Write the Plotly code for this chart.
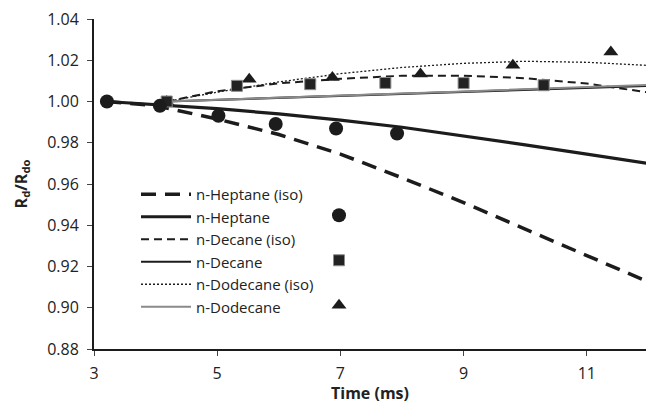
import plotly.graph_objects as go

# ---- data ----
t_hep_model = [3.2, 4, 5, 6, 7, 8, 9, 10, 11, 12]
hep_iso = [1.0, 0.998, 0.9915, 0.984, 0.9745, 0.963, 0.951, 0.938, 0.9253, 0.9125]
hep_model = [1.0, 0.9986, 0.9965, 0.994, 0.991, 0.9875, 0.9834, 0.979, 0.9745, 0.970]

t_model = [4.18, 5, 6, 7, 8, 9, 10, 11, 12]
dec_iso = [1.0, 1.005, 1.0088, 1.011, 1.0125, 1.0125, 1.0113, 1.0087, 1.0044]
dec_model = [1.0, 1.0008, 1.0017, 1.0026, 1.0035, 1.0044, 1.0054, 1.0065, 1.0076]
dod_iso = [1.0, 1.0045, 1.0095, 1.0135, 1.0165, 1.0185, 1.0195, 1.019, 1.0175]
dod_model = [1.0, 1.0009, 1.0019, 1.0029, 1.0039, 1.0049, 1.0059, 1.0069, 1.008]

hep_t = [3.21, 4.07, 5.02, 5.95, 6.93, 7.92]
hep_r = [1.000, 0.9979, 0.9931, 0.9891, 0.9869, 0.9845]
dec_t = [4.18, 5.32, 6.51, 7.73, 9.0, 10.3]
dec_r = [1.000, 1.0076, 1.0084, 1.009, 1.0089, 1.0079]
dod_t = [4.18, 5.52, 6.87, 8.3, 9.8, 11.39]
dod_r = [1.000, 1.0108, 1.0116, 1.0133, 1.0176, 1.024]

x_ticks = [3, 5, 7, 9, 11]
y_ticks = [0.88, 0.90, 0.92, 0.94, 0.96, 0.98, 1.00, 1.02, 1.04]

BLACK = "#1c1c1c"
FONT = "Open Sans"
TXT = "#222222"

fig = go.Figure()

# model lines (legend 1)
fig.add_trace(go.Scatter(x=t_hep_model, y=hep_iso, mode="lines", name="n-Heptane (iso)",
                         line=dict(color=BLACK, width=3.5, dash="15px,9px"), legend="legend"))
fig.add_trace(go.Scatter(x=t_hep_model, y=hep_model, mode="lines", name="n-Heptane",
                         line=dict(color=BLACK, width=3.2), legend="legend"))
fig.add_trace(go.Scatter(x=t_model, y=dec_iso, mode="lines", name="n-Decane (iso)",
                         line=dict(color=BLACK, width=2, dash="8px,5px"), legend="legend"))
fig.add_trace(go.Scatter(x=t_model, y=dec_model, mode="lines", name="n-Decane",
                         line=dict(color=BLACK, width=2.2), legend="legend"))
fig.add_trace(go.Scatter(x=t_model, y=dod_iso, mode="lines", name="n-Dodecane (iso)",
                         line=dict(color=BLACK, width=1.3, dash="2px,2px"), legend="legend"))
fig.add_trace(go.Scatter(x=t_model, y=dod_model, mode="lines", name="n-Dodecane",
                         line=dict(color="#8a8a8a", width=2), legend="legend"))

# experimental markers (legend 2), each in its own group so rows line up with legend 1
fig.add_trace(go.Scatter(x=dod_t, y=dod_r, mode="markers", name="",
                         marker=dict(symbol="triangle-up", size=13, color=BLACK),
                         legend="legend2", legendgroup="c", legendrank=3))
fig.add_trace(go.Scatter(x=dec_t, y=dec_r, mode="markers", name="",
                         marker=dict(symbol="square", size=11, color="#222222",
                                     line=dict(color="#8c8c8c", width=1)),
                         legend="legend2", legendgroup="b", legendrank=2))
fig.add_trace(go.Scatter(x=hep_t, y=hep_r, mode="markers", name="",
                         marker=dict(symbol="circle", size=14, color=BLACK),
                         legend="legend2", legendgroup="a", legendrank=1))

L, R, T, B = 94, 0, 19, 55
W, H = 646, 404
pw = W - L - R
ph = H - T - B

def px2paper_x(px):
    return (px - L) / pw

def px2paper_y(py):
    return (H - B - py) / ph

fig.update_layout(
    width=W, height=H,
    margin=dict(l=L, r=R, t=T, b=B, pad=0),
    paper_bgcolor="white", plot_bgcolor="white",
    font=dict(family=FONT, size=16, color=TXT),
    showlegend=True,
    legend=dict(x=px2paper_x(136), y=px2paper_y(178), xanchor="left", yanchor="top",
                bgcolor="rgba(0,0,0,0)", font=dict(family=FONT, size=15, color=TXT),
                itemwidth=50, traceorder="normal", tracegroupgap=0),
    legend2=dict(x=px2paper_x(319), y=px2paper_y(199), xanchor="left", yanchor="top",
                 bgcolor="rgba(0,0,0,0)", font=dict(family=FONT, size=15, color=TXT),
                 itemwidth=30, traceorder="grouped", tracegroupgap=22.5),
    xaxis=dict(range=[3, 3 + pw / 61.6], tickvals=x_ticks, ticktext=[str(v) for v in x_ticks],
               showgrid=False, zeroline=False, showline=True, linecolor=BLACK, linewidth=2,
               ticks="outside", ticklen=5, tickwidth=1, tickcolor="#444444",
               ticklabelstandoff=4,
               tickfont=dict(family=FONT, size=16, color=TXT),
               title=dict(text="<b>Time (ms)</b>", font=dict(family=FONT, size=16, color=TXT),
                          standoff=3)),
    yaxis=dict(range=[0.88, 1.04], tickvals=y_ticks, ticktext=[f"{v:.2f}" for v in y_ticks],
               showgrid=False, zeroline=False, showline=True, linecolor=BLACK, linewidth=2,
               ticks="outside", ticklen=5, tickwidth=1, tickcolor="#444444",
               ticklabelstandoff=5,
               tickfont=dict(family=FONT, size=16, color=TXT),
               title=dict(text="<b>R<sub>d</sub>/R<sub>do</sub></b>",
                          font=dict(family=FONT, size=16, color=TXT), standoff=16)),
)

fig.write_html("out.html")
